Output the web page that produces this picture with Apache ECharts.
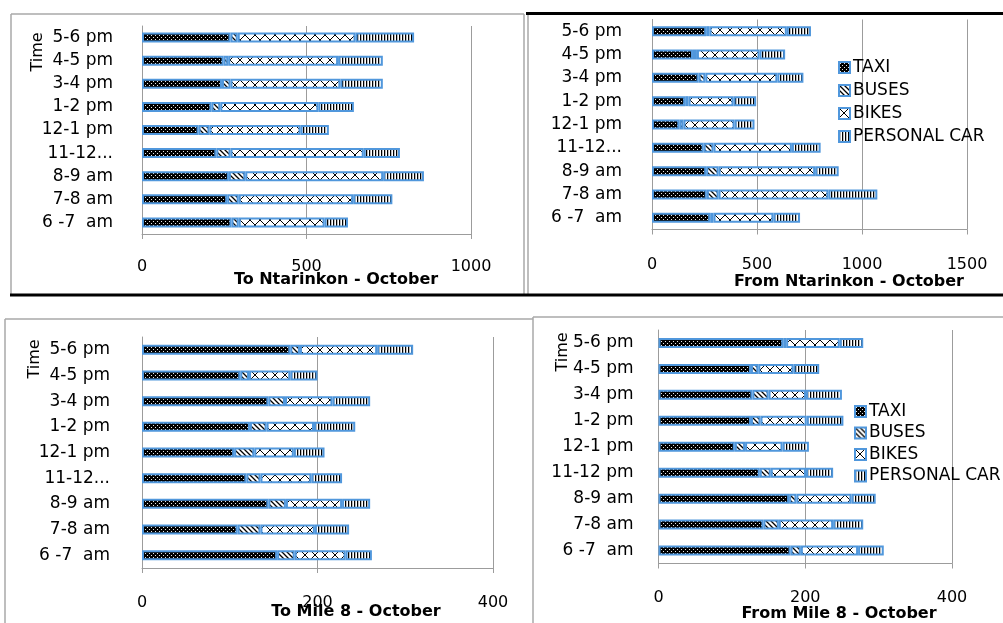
<!DOCTYPE html>
<html>
<head>
<meta charset="utf-8">
<title>Traffic counts by mode – October</title>
<script src="https://cdn.jsdelivr.net/npm/echarts@6/dist/echarts.min.js"></script>
<style>
  html, body { margin: 0; padding: 0; background: #fff; }
  #chart { width: 1003px; height: 623px; }
</style>
</head>
<body>
<div id="chart"></div>
<script>
// Time slots, listed bottom to top as the category axis draws them
const slots = ['6 -7  am', '7-8 am', '8-9 am', '11-12...', '12-1 pm', '1-2 pm', '3-4 pm', '4-5 pm', '5-6 pm'];
const slotsMile8From = ['6 -7  am', '7-8 am', '8-9 am', '11-12 pm', '12-1 pm', '1-2 pm', '3-4 pm', '4-5 pm', '5-6 pm'];
const modes = ['TAXI', 'BUSES', 'BIKES', 'PERSONAL CAR'];

// To Ntarinkon
const toNtarTaxi  = [272, 259, 264, 226, 172, 211, 243, 248, 269];
const toNtarBuses = [22, 35, 50, 43, 33, 27, 26, 14, 22];
const toNtarBikes = [261, 348, 419, 405, 277, 298, 334, 334, 358];
const toNtarCar   = [71, 119, 124, 110, 86, 108, 129, 136, 178];

// From Ntarinkon
const fromNtarTaxi  = [277, 261, 258, 246, 130, 158, 222, 195, 258];
const fromNtarBuses = [16, 56, 59, 47, 20, 16, 32, 19, 16];
const fromNtarBikes = [285, 523, 460, 373, 243, 214, 343, 298, 368];
const fromNtarCar   = [127, 233, 112, 137, 95, 108, 124, 122, 115];

// To Mile 8
const toMileTaxi  = [154, 109, 144, 119, 105, 123, 144, 112, 169];
const toMileBuses = [20, 26, 20, 16, 23, 19, 19, 10, 11];
const toMileBikes = [58, 62, 64, 58, 45, 54, 54, 47, 88];
const toMileCar   = [30, 39, 32, 35, 35, 47, 43, 31, 41];

// From Mile 8
const fromMileTaxi  = [180, 143, 178, 138, 104, 126, 128, 126, 170];
const fromMileBuses = [14, 21, 10, 15, 14, 13, 22, 10, 4];
const fromMileBikes = [78, 74, 75, 48, 51, 63, 51, 48, 73];
const fromMileCar   = [35, 41, 33, 37, 36, 50, 49, 35, 32];

// Value-axis ticks for each panel
const ticksNtar = { max: 1000, interval: 500 };
const ticksNtarFrom = { max: 1500, interval: 500 };
const ticksMile = { max: 400, interval: 200 };

const FONT = 'DejaVu Sans';
const GRID_GREY = '#9c9c9c';
const BAR_BLUE = '#5097dc';

// Small tiled fills used for the four transport modes
function tile(w, h, draw) {
  const c = document.createElement('canvas');
  c.width = w; c.height = h;
  const g = c.getContext('2d');
  draw(g, w, h);
  return { image: c, repeat: 'repeat' };
}
const fillTaxi = tile(4, 4, (g) => {
  g.fillStyle = '#000'; g.fillRect(0, 0, 4, 4);
  g.fillStyle = '#e8e8e8'; g.fillRect(1, 1, 1, 1); g.fillRect(3, 3, 1, 1);
});
const fillBuses = tile(5, 5, (g) => {
  g.fillStyle = '#fff'; g.fillRect(0, 0, 5, 5);
  g.strokeStyle = '#000'; g.lineWidth = 1.3;
  g.beginPath();
  g.moveTo(-1, -1); g.lineTo(6, 6);
  g.moveTo(-6, -1); g.lineTo(1, 6);
  g.moveTo(4, -1); g.lineTo(11, 6);
  g.stroke();
});
const fillBikes = tile(10, 10, (g) => {
  g.fillStyle = '#fff'; g.fillRect(0, 0, 10, 10);
  g.strokeStyle = '#000'; g.lineWidth = 1;
  g.beginPath();
  g.moveTo(0, 0); g.lineTo(10, 10);
  g.moveTo(0, 10); g.lineTo(10, 0);
  g.stroke();
});
const fillCar = tile(3, 3, (g) => {
  g.fillStyle = '#fff'; g.fillRect(0, 0, 3, 3);
  g.fillStyle = '#000'; g.fillRect(0, 0, 1, 3);
  g.fillStyle = '#777'; g.fillRect(1, 0, 0.5, 3);
});
const fills = [fillTaxi, fillBuses, fillBikes, fillCar];

// Panel geometry (grid) and axis settings
const panels = [
  { grid: { left: 142, right: 532, top: 26, height: 208 }, cats: slots, ticks: ticksNtar,
    values: [toNtarTaxi, toNtarBuses, toNtarBikes, toNtarCar], labelMargin: 29, xMargin: 25, barWidth: 10 },
  { grid: { left: 652, right: 36, top: 19.5, height: 210 }, cats: slots, ticks: ticksNtarFrom,
    values: [fromNtarTaxi, fromNtarBuses, fromNtarBikes, fromNtarCar], labelMargin: 30, xMargin: 27, barWidth: 10 },
  { grid: { left: 142, right: 510, top: 337, height: 231 }, cats: slots, ticks: ticksMile,
    values: [toMileTaxi, toMileBuses, toMileBikes, toMileCar], labelMargin: 32, xMargin: 27, barWidth: 10 },
  { grid: { left: 658.5, right: 51, top: 330, height: 233.5 }, cats: slotsMile8From, ticks: ticksMile,
    values: [fromMileTaxi, fromMileBuses, fromMileBikes, fromMileCar], labelMargin: 25, xMargin: 26, barWidth: 10 }
];

const grids = [], xAxes = [], yAxes = [], series = [];
panels.forEach((p, i) => {
  grids.push(Object.assign({ containLabel: false }, p.grid));
  xAxes.push({
    type: 'value', gridIndex: i, min: 0, max: p.ticks.max, interval: p.ticks.interval,
    axisLine: { show: true, lineStyle: { color: GRID_GREY, width: 1 } },
    axisTick: { show: true, length: 5, lineStyle: { color: GRID_GREY } },
    splitLine: { show: true, lineStyle: { color: GRID_GREY, width: 1 } },
    axisLabel: { color: '#000', fontFamily: FONT, fontSize: 16, margin: p.xMargin, formatter: (v) => String(v) }
  });
  yAxes.push({
    type: 'category', gridIndex: i, data: p.cats,
    axisLine: { show: true, lineStyle: { color: GRID_GREY, width: 1 } },
    axisTick: { show: false },
    splitLine: { show: false },
    axisLabel: { color: '#000', fontFamily: FONT, fontSize: 17, margin: p.labelMargin }
  });
  modes.forEach((m, k) => {
    series.push({
      name: m, type: 'bar', xAxisIndex: i, yAxisIndex: i, stack: 'panel' + i,
      barWidth: p.barWidth, data: p.values[k],
      itemStyle: { color: fills[k], borderColor: BAR_BLUE, borderWidth: 2 },
      emphasis: { disabled: true }
    });
  });
});

const legendBase = {
  orient: 'vertical', icon: 'rect', itemWidth: 11, itemHeight: 11,
  textStyle: { color: '#000', fontFamily: FONT, fontSize: 17, padding: [0, 0, 0, -2] },
  data: modes, selectedMode: false
};

const titleStyle = { fontFamily: FONT, fontSize: 16, fontWeight: 'bold', fill: '#000', align: 'center', verticalAlign: 'middle' };
const timeStyle = { fontFamily: FONT, fontSize: 16, fill: '#000', align: 'center', verticalAlign: 'middle' };
const grey = { stroke: '#a8a8a8', lineWidth: 1.5 };
const black = { stroke: '#000', lineWidth: 3 };

const frame = [
  // top row
  { type: 'line', shape: { x1: 11, y1: 14, x2: 524, y2: 14 }, style: grey },
  { type: 'line', shape: { x1: 11, y1: 14, x2: 11, y2: 295 }, style: grey },
  { type: 'line', shape: { x1: 524, y1: 14, x2: 524, y2: 295 }, style: grey },
  { type: 'line', shape: { x1: 528, y1: 14, x2: 528, y2: 295 }, style: grey },
  { type: 'line', shape: { x1: 526, y1: 13.5, x2: 1003, y2: 13.5 }, style: black },
  { type: 'line', shape: { x1: 10, y1: 295, x2: 1003, y2: 295 }, style: black },
  // bottom row
  { type: 'line', shape: { x1: 5, y1: 319, x2: 533, y2: 319 }, style: grey },
  { type: 'line', shape: { x1: 5, y1: 319, x2: 5, y2: 623 }, style: grey },
  { type: 'line', shape: { x1: 533, y1: 317, x2: 533, y2: 623 }, style: grey },
  { type: 'line', shape: { x1: 533, y1: 317, x2: 1003, y2: 317 }, style: grey }
];

const texts = [
  { type: 'text', x: 336, y: 280, style: Object.assign({ text: 'To Ntarinkon - October' }, titleStyle) },
  { type: 'text', x: 849, y: 282, style: Object.assign({ text: 'From Ntarinkon - October' }, titleStyle) },
  { type: 'text', x: 356, y: 612, style: Object.assign({ text: 'To Mile 8 - October' }, titleStyle) },
  { type: 'text', x: 839, y: 614, style: Object.assign({ text: 'From Mile 8 - October' }, titleStyle) },
  { type: 'text', x: 38, y: 52, rotation: Math.PI / 2, style: Object.assign({ text: 'Time' }, timeStyle) },
  { type: 'text', x: 35, y: 359, rotation: Math.PI / 2, style: Object.assign({ text: 'Time' }, timeStyle) },
  { type: 'text', x: 563, y: 352, rotation: Math.PI / 2, style: Object.assign({ text: 'Time' }, timeStyle) }
];

const chart = echarts.init(document.getElementById('chart'), null, { renderer: 'canvas' });
chart.setOption({
  animation: false,
  backgroundColor: '#fff',
  grid: grids,
  xAxis: xAxes,
  yAxis: yAxes,
  legend: [
    Object.assign({ left: 833, top: 54, itemGap: 6 }, legendBase),
    Object.assign({ left: 849, top: 398, itemGap: 4.5 }, legendBase)
  ],
  series: series,
  graphic: frame.concat(texts)
});
</script>
</body>
</html>
